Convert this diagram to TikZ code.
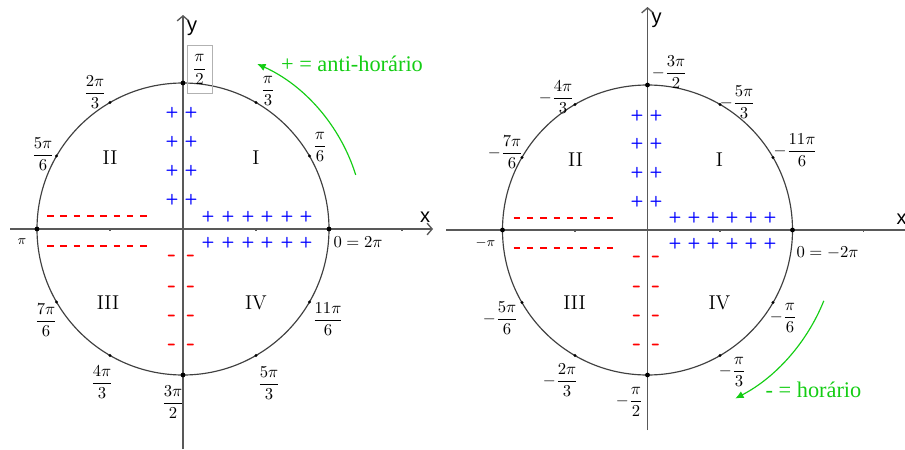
\documentclass[tikz,border=0pt]{standalone}
\usepackage{amsmath}
\usepackage{fontspec}
\newfontfamily\notefont{Liberation Serif}
\newfontfamily\axisfont{Liberation Sans}
\usetikzlibrary{arrows.meta}
\definecolor{turngreen}{RGB}{20,205,20}

\begin{document}
\begin{tikzpicture}[x=0.6pt, y=0.6pt, >={Straight Barb[length=3pt,width=7pt]},
    axis/.style={draw=black!65, line width=0.8pt},
    ucirc/.style={draw=black!75, line width=0.7pt},
    axlabel/.style={font=\axisfont\large, inner sep=0pt},
    anglab/.style={inner sep=1pt},
    quad/.style={font=\large, inner sep=0pt},
    plussign/.style={text=blue, font=\sffamily\bfseries\small, inner sep=0pt},
    minussign/.style={text=red, font=\sffamily\bfseries\Large, inner sep=0pt},
    minusrow/.style={red, line width=0.95pt, dash pattern=on 3.9pt off 4.1pt},
    turn/.style={turngreen, line width=0.7pt, -{Latex[length=5pt,width=4.5pt]}},
    turnlabel/.style={text=turngreen, font=\notefont\fontsize{13.4}{16}\selectfont, inner sep=0pt}]
  \useasboundingbox (0,0) rectangle (905,449);

  % ---------- left circle: positive angles ----------
  \begin{scope}[shift={(183,220)}]
    % Axes
    \draw[axis, ->] (-173,0) -- (250,0);
    \draw[axis, ->] (0,-220) -- (0,214);
    \foreach \t in {-73,73,219} \draw[axis] (\t,-1.5) -- (\t,1.5);
    \node[axlabel] (lx) at (242,12) {x};
    \node[axlabel] (ly) at (9,201) {y};

    % Circle and marked points
    \draw[ucirc] (0,0) circle (146);
    \foreach \a in {30,60,120,150,210,240,300,330} \fill (\a:146) circle (1.6);
    \foreach \a in {0,90,180,270} \fill (\a:146) circle (2.4);

    % Angle labels
    \node[anglab, draw=black!30, minimum width=15pt, minimum height=29pt] (l90) at (16.5,159.5) {$\dfrac{\pi}{2}$};
    \node[anglab] (l120) at (-88,137) {$\dfrac{2\pi}{3}$};
    \node[anglab] (l60) at (85,138) {$\dfrac{\pi}{3}$};
    \node[anglab] (l150) at (-140,75) {$\dfrac{5\pi}{6}$};
    \node[anglab] (l30) at (137,82) {$\dfrac{\pi}{6}$};
    \node[anglab, font=\footnotesize] (l180) at (-161,-13) {$\pi$};
    \node[anglab] (l0) at (175,-13) {$0=2\pi$};
    \node[anglab] (l210) at (-137,-91) {$\dfrac{7\pi}{6}$};
    \node[anglab] (l330) at (145,-90) {$\dfrac{11\pi}{6}$};
    \node[anglab] (l240) at (-81,-153) {$\dfrac{4\pi}{3}$};
    \node[anglab] (l300) at (86,-154) {$\dfrac{5\pi}{3}$};
    \node[anglab] (l270) at (-10,-173) {$\dfrac{3\pi}{2}$};

    % Quadrants
    \node[quad] (q1) at (73,71) {I};
    \node[quad] (q2) at (-73,71) {II};
    \node[quad] (q3) at (-75,-74) {III};
    \node[quad] (q4) at (73,-74) {IV};

    % Signs
    \foreach \y in {116,87,58,29} {
      \node[plussign] (lpa\y) at (-11,\y) {+};
      \node[plussign] (lpb\y) at (8,\y) {+};
    }
    \foreach \x in {25,45,65,84,104,123} {
      \node[plussign] (lpu\x) at (\x,12) {+};
      \node[plussign] (lpd\x) at (\x,-14) {+};
    }
    \foreach \y in {-29,-60,-89,-118} {
      \node[minussign] (lma\y) at (-11,\y) {-};
      \node[minussign] (lmb\y) at (8,\y) {-};
    }
    \draw[minusrow] (-136,13) -- (-33,13);
    \draw[minusrow] (-136,-17) -- (-33,-17);

    % Direction
    \draw[turn] (17.4:181) arc[start angle=17.4, end angle=65.8, radius=181];
    \node[turnlabel] (ccw) at (169,165) {+ = anti-horário};
  \end{scope}

  % ---------- right circle: negative angles ----------
  \begin{scope}[shift={(647.5,219)}]
    % Axes
    \draw[axis, ->] (-201.5,0) -- (264,0);
    \draw[axis, ->] (0,-200) -- (0,223);
    \foreach \t in {-72.5,72.5,216} \draw[axis] (\t,-1.5) -- (\t,1.5);
    \node[axlabel] (rx) at (254,11) {x};
    \node[axlabel] (ry) at (9,210) {y};

    % Circle and marked points
    \draw[ucirc] (0,0) circle (145);
    \foreach \a in {30,60,120,150,210,240,300,330} \fill (\a:145) circle (1.6);
    \foreach \a in {0,90,180,270} \fill (\a:145) circle (2.4);

    % Angle labels
    \node[anglab] (r90) at (22,158) {$-\dfrac{3\pi}{2}$};
    \node[anglab] (r120) at (-91,133) {$-\dfrac{4\pi}{3}$};
    \node[anglab] (r60) at (90,128) {$-\dfrac{5\pi}{3}$};
    \node[anglab] (r150) at (-142,78) {$-\dfrac{7\pi}{6}$};
    \node[anglab] (r30) at (148,80) {$-\dfrac{11\pi}{6}$};
    \node[anglab, font=\footnotesize] (r180) at (-162,-13) {$-\pi$};
    \node[anglab] (r0) at (180,-23) {$0=-2\pi$};
    \node[anglab] (r210) at (-147,-88) {$-\dfrac{5\pi}{6}$};
    \node[anglab] (r330) at (136,-88) {$-\dfrac{\pi}{6}$};
    \node[anglab] (r240) at (-87,-150) {$-\dfrac{2\pi}{3}$};
    \node[anglab] (r300) at (85,-142) {$-\dfrac{\pi}{3}$};
    \node[anglab] (r270) at (-18,-172) {$-\dfrac{\pi}{2}$};

    % Quadrants
    \node[quad] (s1) at (72,70) {I};
    \node[quad] (s2) at (-72,70) {II};
    \node[quad] (s3) at (-73,-73) {III};
    \node[quad] (s4) at (72,-73) {IV};

    % Signs
    \foreach \y in {114,86,57,28} {
      \node[plussign] (rpa\y) at (-10.5,\y) {+};
      \node[plussign] (rpb\y) at (8.5,\y) {+};
    }
    \foreach \x in {27.5,46.5,65.5,84.5,103.5,122.5} {
      \node[plussign] (rpu\x) at (\x,12) {+};
      \node[plussign] (rpd\x) at (\x,-14) {+};
    }
    \foreach \y in {-29,-59,-88,-117} {
      \node[minussign] (rma\y) at (-10.5,\y) {-};
      \node[minussign] (rmb\y) at (8.5,\y) {-};
    }
    \draw[minusrow] (-134,12) -- (-31,12);
    \draw[minusrow] (-134,-18) -- (-31,-18);

    % Direction
    \draw[turn] (-21.9:190) arc[start angle=-21.9, end angle=-62.5, radius=190];
    \node[turnlabel] (cw) at (166,-160) {- = horário};
  \end{scope}
\end{tikzpicture}
\end{document}
